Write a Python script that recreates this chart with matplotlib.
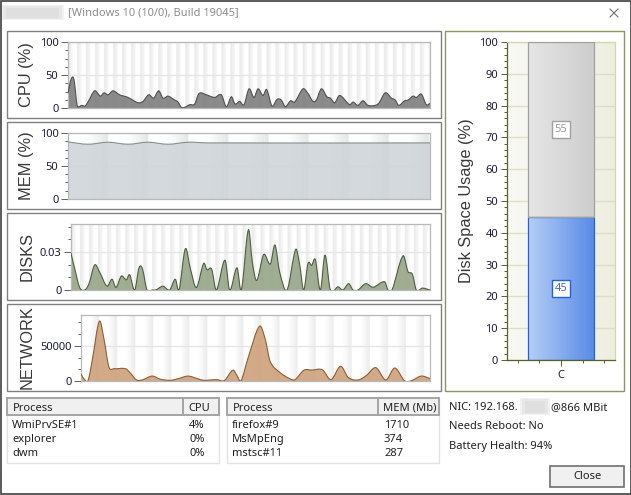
import numpy as np
import matplotlib
matplotlib.use('Agg')
import matplotlib.pyplot as plt
from matplotlib.path import Path
from matplotlib.patches import PathPatch, Rectangle
from matplotlib.colors import LinearSegmentedColormap

plt.rcParams['font.family'] = ['Noto Sans', 'DejaVu Sans']

# ---------- data ----------
cpu_t = [205,212,219,224,232,238,246,256,266,285,302,313,325,340,360,385,415,430,447,462,477,490,505,525,535,545,555,570,585,598,620,645,665,680,695,706,720,733,748,763,775,790,801,817,832,845,857,873,885,910,925,940,950,965,982,992,1005,1020,1050,1060,1075,1090,1105,1135,1157,1175,1187,1197,1215,1225,1240,1250,1265,1280,1291]
cpu_v = [22,40,47,40,5,2,4,3,10,26,18,23,20,26,20,16,8,10,20,15,26,15,18,12,9,1,1,5,6,22,20,16,20,2,17,6,10,5,29,16,29,19,28,3,13,12,2,11,9,29,22,10,12,29,17,15,8,19,5,9,4,11,4,6,23,15,12,4,11,12,18,16,21,5,7]
mem_t = [205,265,325,385,445,505,565,625,1291]
mem_v = [86.5,83,86,83,86,83,86,85,85]
disk_t = [214,225,240,255,268,285,300,322,337,349,365,380,390,405,418,428,442,458,468,490,510,527,538,557,572,590,612,622,636,650,676,690,712,725,746,758,771,792,812,826,840,862,888,900,912,925,936,947,962,976,992,1015,1030,1047,1060,1075,1098,1120,1155,1165,1177,1210,1225,1238,1250,1268,1291]
disk_v = [.029,.017,.002,0,.005,.0198,.014,.003,.0085,.002,.011,.008,.012,0,.0175,.017,0,0,0,.003,0,.0085,0,.0325,.017,.002,.021,.016,.0165,0,.0235,0,.0175,0,.0475,.022,.0075,.028,.0205,.0355,.014,0,.032,.02,0,.021,.0195,.024,0,.0275,0,.0025,0,.005,0,0,.005,.0022,.0065,0,0,.027,.0145,.0125,0,.0015,0]
net_t = [241,250,262,275,296,310,325,340,375,390,408,425,455,480,510,535,563,590,610,650,672,698,710,722,745,778,795,810,840,870,885,912,935,967,993,1022,1045,1075,1100,1128,1158,1185,1215,1235,1265,1291]
net_v = [10000,3000,500,30000,85000,60000,20000,17500,17500,11000,1500,1500,7000,2500,1000,3500,7000,3500,1000,2000,500,15500,8000,0,35000,78000,60000,28000,12000,3000,2000,15500,15500,16000,2000,21000,5000,1500,8000,19000,1500,18500,0,500,7000,3500]
disk_categories = ['C']
disk_used = [45]
disk_free = [55]
proc_cpu_names = ['WmiPrvSE#1','explorer','dwm']
proc_cpu_vals = ['4%','0%','0%']
proc_mem_names = ['firefox#9','MsMpEng','mstsc#11']
proc_mem_vals = ['1710','374','287']
info_lines = ['Needs Reboot: No','Battery Health: 94%']

W, H = 631, 495
fig = plt.figure(figsize=(W/100, H/100), dpi=100, facecolor='white')

def axpx(x0, y0, x1, y1, **kw):
    return fig.add_axes([x0/W, 1-y1/H, (x1-x0)/W, (y1-y0)/H], **kw)

# chrome layer
ch = axpx(0, 0, W, H)
ch.set_xlim(0, W); ch.set_ylim(H, 0); ch.axis('off')

def box(x0, y0, x1, y1, ec='#808080', fc='none', lw=1.0, z=1, **kw):
    ch.add_patch(Rectangle((x0, y0), x1-x0, y1-y0, ec=ec, fc=fc, lw=lw, zorder=z, **kw))

def smooth_path(t, v, base=None):
    """Catmull-Rom curve through the read points, as a Bezier path."""
    t = np.asarray(t, float); v = np.asarray(v, float)
    verts = [(t[0], v[0])]; codes = [Path.MOVETO]
    for i in range(len(t)-1):
        a = max(i-1, 0); b = min(i+2, len(t)-1)
        dt = t[i+1]-t[i]
        m0 = (v[i+1]-v[a])/(t[i+1]-t[a]); m1 = (v[b]-v[i])/(t[b]-t[i])
        verts += [(t[i]+dt/3, v[i]+m0*dt/3), (t[i+1]-dt/3, v[i+1]-m1*dt/3), (t[i+1], v[i+1])]
        codes += [Path.CURVE4]*3
    if base is not None:
        verts += [(t[-1], base), (t[0], base), (t[0], v[0])]
        codes += [Path.LINETO, Path.LINETO, Path.CLOSEPOLY]
    return Path(verts, codes)

def bands(ax, wpx, period, gray0, gray1, start_white=False):
    n = int(wpx*4)
    xs = (np.arange(n)+.5)/4
    ph = (xs % period)/period
    if start_white:
        ph = (ph+.5) % 1
    col = np.ones(n)
    m = ph < .5
    col[m] = gray0 + (gray1-gray0)*ph[m]*2
    ax.imshow(col[None, :], extent=(0, 1, 0, 1), transform=ax.transAxes, aspect='auto',
              cmap='gray', vmin=0, vmax=1, zorder=0, interpolation='bilinear')

panels = [
    dict(box=(7,31,441,118), ax=(68,42,430,108), t=cpu_t, v=cpu_v, xl=(205,1291), yl=(0,100),
         major=[0,50,100], labs=['0','50','100'], minor=np.arange(0,101,12.5), label='CPU (%)',
         fill='#7E7E7E', alpha=.9, line='#505050', period=9, g=(.91,.97), sw=False),
    dict(box=(7,122,441,209), ax=(68,133,430,199), t=mem_t, v=mem_v, xl=(205,1291), yl=(0,100),
         major=[0,50,100], labs=['0','50','100'], minor=np.arange(0,101,12.5), label='MEM (%)',
         fill='#CDD4D8', alpha=.88, line='#85918F', period=40, g=(1.0,.90), sw=True),
    dict(box=(7,213,441,300), ax=(71,224,430,290), t=disk_t, v=disk_v, xl=(214,1291), yl=(0,.0521),
         major=[0,.03], labs=['0','0.03'], minor=np.arange(0,.051,.01), label='DISKS',
         fill='#96A588', alpha=.9, line='#4E5E40', period=9, g=(.91,.97), sw=False),
    dict(box=(7,304,441,391), ax=(81,315,430,381), t=net_t, v=net_v, xl=(241,1291), yl=(0,94000),
         major=[0,50000], labs=['0','50000'], minor=np.arange(0,90000,50000/3), label='NETWORK',
         fill='#CDA17A', alpha=.9, line='#8E5E34', period=18, g=(1.0,.92), sw=True),
]

LABEL_FONT = ['Liberation Sans', 'DejaVu Sans']

for p in panels:
    box(*p['box'])
    a = p['ax']
    ax = axpx(*a, facecolor='white')
    bands(ax, a[2]-a[0], p['period'], p['g'][0], p['g'][1], p['sw'])
    ax.set_xlim(*p['xl']); ax.set_ylim(*p['yl'])
    base = p['yl'][0]
    ax.add_patch(PathPatch(smooth_path(p['t'], p['v'], base), fc=p['fill'], ec='none', alpha=p['alpha'], zorder=2))
    ax.add_patch(PathPatch(smooth_path(p['t'], p['v']), fc='none', ec=p['line'], lw=0.8, zorder=3))
    ax.set_yticks(p['major']); ax.set_yticklabels(p['labs'])
    ax.set_yticks(p['minor'], minor=True)
    ax.set_xticks([])
    ax.tick_params(axis='y', which='major', length=5, width=.7, color='#606060', labelsize=8, labelcolor='#1A1A3A', pad=2)
    ax.tick_params(axis='y', which='minor', length=2.5, width=.7, color='#606060')
    for yy in p['major'][1:]:
        ax.axhline(yy, color='#E6E6E6', lw=1, zorder=1)
    for s in ax.spines.values():
        s.set_color('#B8B8B8'); s.set_linewidth(.9)
    ch.text(27, (p['box'][1]+p['box'][3])/2, p['label'], rotation=90, ha='center', va='center',
            fontsize=11.8, color='#383838', family=LABEL_FONT)

# disk usage panel
box(445, 31, 624, 391, ec='#8A9468')
ax = axpx(507, 42, 615, 360)
g = LinearSegmentedColormap.from_list('bg', ['#F9F9F5', '#EEEEE0'])
ax.imshow(np.linspace(0, 1, 64)[None, :], extent=(0, 1, 0, 1), transform=ax.transAxes, aspect='auto', cmap=g, zorder=0)
ax.set_xlim(-.5, .5); ax.set_ylim(0, 100)
ax.yaxis.grid(True, which='major', color='#DEDFC2', lw=1, zorder=1)
ax.set_axisbelow(True)
def grad_bar(bar, c0, c1):
    cm = LinearSegmentedColormap.from_list('b', [c0, c1])
    r = bar.get_x(), bar.get_x()+bar.get_width(), bar.get_y(), bar.get_y()+bar.get_height()
    im = ax.imshow(np.linspace(0, 1, 64)[None, :], extent=r, aspect='auto', cmap=cm, zorder=2)
    im.set_clip_path(bar)
blue = ax.bar(0, disk_used, width=.61, bottom=0, fc='none', ec='#2463D6', lw=.9, zorder=3)[0]
gray = ax.bar(0, disk_free, width=.61, bottom=disk_used, fc='none', ec='#A0A0A0', lw=.9, zorder=4)[0]
grad_bar(blue, '#B6CEF6', '#5A8BE6')
grad_bar(gray, '#E6E6E6', '#CDCDCD')
ax.set_xlim(-.5, .5); ax.set_ylim(0, 100)
ax.text(0, disk_used[0]/2, str(disk_used[0]), ha='center', va='center', fontsize=8, color='#4A70C8', zorder=5,
        bbox=dict(boxstyle='square,pad=0.25', fc='white', ec='#2463D6', lw=1))
ax.text(0, disk_used[0]+disk_free[0]/2, str(disk_free[0]), ha='center', va='center', fontsize=8, color='#999999', zorder=5,
        bbox=dict(boxstyle='square,pad=0.25', fc='white', ec='#A0A0A0', lw=1))
ax.set_yticks(np.arange(0, 101, 10)); ax.set_yticks(np.arange(0, 101, 2), minor=True)
ax.set_xticks([0]); ax.set_xticklabels(disk_categories)
ax.set_xticks([-.4, -.2, .2, .4], minor=True)
ax.tick_params(axis='y', which='major', length=4.5, width=.7, color='#56602E', labelsize=8, labelcolor='#1A1A3A', pad=2)
ax.tick_params(axis='y', which='minor', length=2.2, width=.7, color='#56602E')
ax.tick_params(axis='x', which='major', length=4.5, width=.7, color='#56602E', labelsize=8, labelcolor='#1A1A3A', pad=3)
ax.tick_params(axis='x', which='minor', length=2.2, width=.7, color='#56602E')
for n, s in ax.spines.items():
    s.set_color('#56602E' if n in ('left', 'bottom') else '#D4D6AE'); s.set_linewidth(.9)
ch.text(466, 201, 'Disk Space Usage (%)', rotation=90, ha='center', va='center', fontsize=11.8, color='#383838', family=LABEL_FONT)

# process tables
def table(x0, xdiv, x1, head, names, vals, xv):
    box(x0, 398, x1, 463, ec='#E2E2E2', fc='white')
    box(x0, 398, xdiv, 415, ec='#A4A4A4', fc='#F0F0F0', lw=1.4, z=2)
    box(xdiv, 398, x1, 415, ec='#A4A4A4', fc='#F0F0F0', lw=1.4, z=2)
    ch.text(x0+6, 408.5, head[0], fontsize=8, va='center', color='#202020', zorder=3)
    ch.text(xdiv+5, 408.5, head[1], fontsize=8, va='center', color='#202020', zorder=3)
    for i, (n, v) in enumerate(zip(names, vals)):
        ch.text(x0+5, 425.5+14*i, n, fontsize=8, va='center', color='#202020')
        ch.text(xv, 425.5+14*i, v, fontsize=8, va='center', color='#202020')
table(7, 183, 219, ('Process', 'CPU'), proc_cpu_names, proc_cpu_vals, 189)
table(227, 378, 439, ('Process', 'MEM (Mb)'), proc_mem_names, proc_mem_vals, 384)

# info text
ch.text(449, 407.5, 'NIC: 192.168.', fontsize=8, va='center', color='#202020')
ch.text(551, 407.5, '@866 MBit', fontsize=8, va='center', color='#202020')
for i, s in enumerate(info_lines):
    ch.text(449, [426.5, 446.5][i], s, fontsize=8, va='center', color='#202020')
box(550, 466, 624, 487, ec='#707070', fc='#F0F0F0', lw=1.2)
ch.text(587, 476.5, 'Close', fontsize=8, ha='center', va='center', color='#202020', zorder=3)

# title and window frame
ch.text(68, 12.5, '[Windows 10 (10/0), Build 19045]', fontsize=8, va='center', color='#8C8C8C')
for (x0, y0, x1, y1) in [(1, 5, 64, 20), (520, 398, 550, 415)]:
    for k, al in [(0, .35), (2, .4), (5, .5)]:
        box(x0+k, y0+k/2, x1-k, y1-k/2, ec='none', fc='#D8D8D8', alpha=al)
ch.plot([610, 618], [9, 17], color='#707070', lw=.8)
ch.plot([610, 618], [17, 9], color='#707070', lw=.8)
box(0.5, 0.5, W-.5, H-1, ec='#404040', lw=1.2, z=6)

fig.savefig('out.png', dpi=100)
